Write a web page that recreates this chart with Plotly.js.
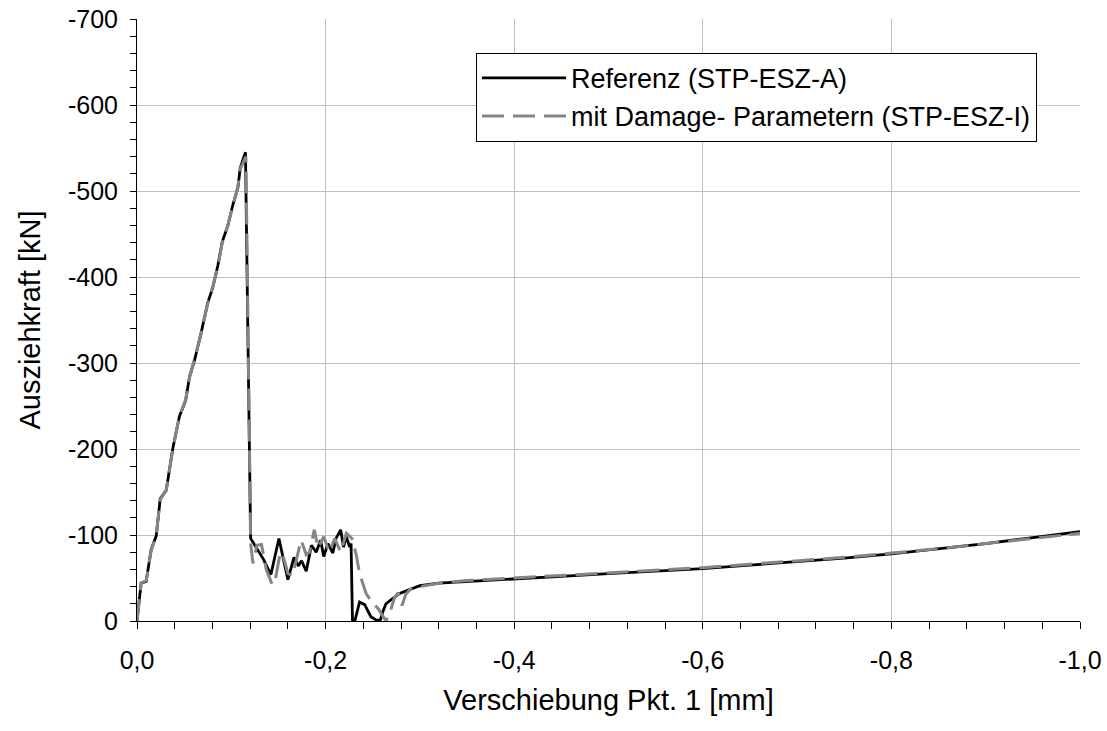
<!DOCTYPE html>
<html>
<head>
<meta charset="utf-8">
<script src="https://cdn.plot.ly/plotly-3.0.1.min.js"></script>
<style>
  html, body { margin: 0; padding: 0; background: #ffffff; }
  #chart { width: 1107px; height: 731px; }
</style>
</head>
<body>
<div id="chart"></div>
<script>
// Pull-out test: force over displacement of point 1 (both negative)
const refName = 'Referenz (STP-ESZ-A)';
const refX = [0, -0.0044, -0.0097, -0.015, -0.0204, -0.0246, -0.031, -0.038, -0.045, -0.0515,
  -0.0557, -0.061, -0.068, -0.075, -0.0804, -0.0857, -0.0904, -0.0964, -0.1017, -0.107,
  -0.1095, -0.115, -0.1205, -0.1265, -0.134, -0.142, -0.1505, -0.160, -0.1665, -0.171,
  -0.1745, -0.1795, -0.185, -0.190, -0.1947, -0.198, -0.2025, -0.2077, -0.211, -0.216,
  -0.219, -0.222, -0.2255, -0.227, -0.2285, -0.231, -0.236, -0.2414, -0.248, -0.2538,
  -0.258, -0.2608, -0.264, -0.2697, -0.2785, -0.2856, -0.296, -0.30, -0.32, -0.35,
  -0.40, -0.45, -0.50, -0.55, -0.60, -0.65, -0.70, -0.75, -0.80, -0.85,
  -0.90, -0.95, -1.00];
const refY = [0, -44, -46, -83, -99, -142, -152, -201, -238, -256,
  -284, -303, -335, -370, -388, -413, -441, -460, -484, -504,
  -527, -545, -96, -86, -72, -54, -96, -48, -74, -64,
  -70, -58, -88, -80, -94, -75, -90, -79, -96, -106,
  -86, -98, -86, -90, 0, 0, -22, -19, -5, -1,
  -1, -11, -20, -25, -32, -35, -39, -41, -44, -46,
  -49, -52, -55, -58, -61, -65, -69, -73, -78, -84,
  -90, -97, -104];

const dmgName = 'mit Damage- Parametern (STP-ESZ-I)';
const dmgX = [0, -0.0044, -0.0097, -0.015, -0.0204, -0.0246, -0.031, -0.038, -0.045, -0.0515,
  -0.0557, -0.061, -0.068, -0.075, -0.0804, -0.0857, -0.0904, -0.0964, -0.1017, -0.107,
  -0.1095, -0.1155, -0.1205, -0.123, -0.127, -0.132, -0.137, -0.1435, -0.147, -0.152,
  -0.156, -0.160, -0.165, -0.170, -0.174, -0.1795, -0.183, -0.188, -0.192, -0.198,
  -0.204, -0.2096, -0.216, -0.222, -0.228, -0.2325, -0.236, -0.243, -0.249, -0.256,
  -0.261, -0.264, -0.268, -0.273, -0.277, -0.281, -0.285, -0.29, -0.30, -0.32,
  -0.35, -0.40, -0.45, -0.50, -0.55, -0.60, -0.65, -0.70, -0.75, -0.80,
  -0.85, -0.90, -0.95, -1.00];
const dmgY = [0, -44, -47, -82, -100, -141, -152, -200, -238, -257,
  -283, -304, -334, -369, -389, -412, -440, -461, -483, -505,
  -526, -540, -90, -67, -88, -89, -60, -42, -50, -80,
  -72, -55, -53, -75, -94, -77, -80, -106, -85, -98,
  -80, -96, -80, -102, -96, -77, -55, -32, -22, -14,
  -5, 0, -9, -27, -33, -18, -31, -37, -40, -44,
  -47, -50, -53, -56, -59, -62, -66, -70, -74, -79,
  -84, -90, -96, -102];

// Tick labels with a plain hyphen and decimal comma
const xTickVals = [0, -0.2, -0.4, -0.6, -0.8, -1.0];
const xTickText = ['0,0', '-0,2', '-0,4', '-0,6', '-0,8', '-1,0'];
const yTickVals = [0, -100, -200, -300, -400, -500, -600, -700];
const yTickText = ['0', '-100', '-200', '-300', '-400', '-500', '-600', '-700'];

const xTitle = 'Verschiebung Pkt. 1 [mm]';
const yTitle = 'Ausziehkraft [kN]';

const FONT = 'Liberation Sans, Arial, sans-serif';

const traces = [
  {
    x: refX, y: refY, name: refName, type: 'scatter', mode: 'lines',
    line: { color: '#000000', width: 2.8 }
  },
  {
    x: dmgX, y: dmgY, name: dmgName, type: 'scatter', mode: 'lines',
    line: { color: '#858585', width: 3, dash: '22px,9px' }
  }
];

const layout = {
  width: 1107,
  height: 731,
  margin: { l: 137, r: 27, t: 19, b: 110, pad: 0 },
  paper_bgcolor: '#ffffff',
  plot_bgcolor: '#ffffff',
  font: { family: FONT, size: 25, color: '#000000' },
  showlegend: true,
  legend: {
    x: 0.3595, y: 0.87, xanchor: 'left', yanchor: 'middle',
    bgcolor: '#ffffff', bordercolor: '#000000', borderwidth: 1,
    font: { family: FONT, size: 27, color: '#000000' },
    itemwidth: 84,
    tracegroupgap: 0
  },
  xaxis: {
    range: [0, -1],
    tickmode: 'array', tickvals: xTickVals, ticktext: xTickText,
    ticks: 'outside', ticklen: 7, tickwidth: 1, tickcolor: '#000000',
    ticklabelstandoff: 10,
    minor: { tickmode: 'linear', tick0: 0, dtick: 0.04, ticks: 'outside', ticklen: 7, tickcolor: '#000000', showgrid: false },
    showline: true, linecolor: '#000000', linewidth: 1,
    showgrid: true, gridcolor: '#c0c0c0', gridwidth: 1,
    zeroline: false,
    tickfont: { family: FONT, size: 25, color: '#000000' },
    title: { text: xTitle, font: { family: FONT, size: 29, color: '#000000' }, standoff: 16 }
  },
  yaxis: {
    range: [0, -700],
    tickmode: 'array', tickvals: yTickVals, ticktext: yTickText,
    ticks: 'outside', ticklen: 6, tickwidth: 1, tickcolor: '#000000',
    ticklabelstandoff: 7,
    minor: { tickmode: 'linear', tick0: 0, dtick: 20, ticks: 'outside', ticklen: 6, tickcolor: '#000000', showgrid: false },
    showline: true, linecolor: '#000000', linewidth: 1,
    showgrid: true, gridcolor: '#c0c0c0', gridwidth: 1,
    zeroline: false,
    tickfont: { family: FONT, size: 25, color: '#000000' },
    title: { text: yTitle, font: { family: FONT, size: 29, color: '#000000' }, standoff: 18 }
  }
};

Plotly.newPlot('chart', traces, layout, { displayModeBar: false, staticPlot: true });
</script>
</body>
</html>
